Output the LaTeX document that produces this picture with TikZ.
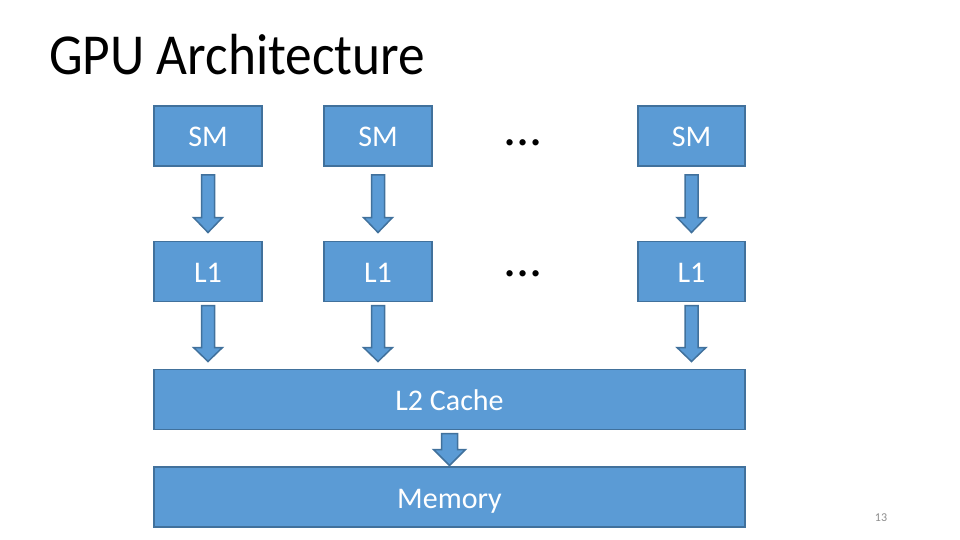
\documentclass[tikz,border=0pt]{standalone}
\usepackage{fontspec}
\setmainfont{Carlito}
\usetikzlibrary{calc}
\definecolor{boxfill}{HTML}{5B9BD5}
\definecolor{boxline}{HTML}{41719C}
\definecolor{pagenum}{HTML}{8C8C8C}
\tikzset{
  unit/.style={draw=boxline, fill=boxfill, line width=1.5pt, outer sep=0pt, inner sep=0pt,
    minimum width=108pt, minimum height=60pt, text=white,
    font=\fontsize{30}{30}\selectfont, text height=22pt, text depth=0pt},
  wide/.style={unit, minimum width=591pt},
  blockarrow/.style={draw=boxline, fill=boxfill, line width=1.5pt, line join=miter},
  dots/.style={font=\fontsize{52}{52}\selectfont, anchor=base, inner sep=0pt}
}
% from, to, gap top, gap bottom, shaft half width, head half width, head length
\newcommand{\barrow}[7]{%
  \draw[blockarrow] let \p1=(#1.south), \p2=(#2.north) in
    (\x1-#5pt,\y1-#3pt) -- (\x1+#5pt,\y1-#3pt) -- (\x1+#5pt,\y2+#4pt+#7pt)
    -- (\x1+#6pt,\y2+#4pt+#7pt) -- (\x1,\y2+#4pt) -- (\x1-#6pt,\y2+#4pt+#7pt)
    -- (\x1-#5pt,\y2+#4pt+#7pt) -- cycle;}
\begin{document}
\begin{tikzpicture}[x=1pt,y=-1pt]
\useasboundingbox (0,0) rectangle (960,540);
\node[anchor=base west, inner sep=0pt, font=\fontsize{58}{58}\selectfont, xscale=0.92] (title) at (49,75) {GPU Architecture};

\node[unit] (sm1) at (208,136) {SM};
\node[unit] (sm2) at (378,136) {SM};
\node[unit, minimum width=107pt] (sm3) at (691.5,136) {SM};
\node[dots] (dots1) at (523,146) {...};

\node[unit] (l1a) at (208,271.5) {L1};
\node[unit] (l1b) at (378,271.5) {L1};
\node[unit, minimum width=107pt] (l1c) at (691.5,271.5) {L1};
\node[dots] (dots2) at (523,276) {...};

\node[wide] (l2) at (449.5,399.5) {L2 Cache};
\node[wide] (mem) at (449.5,497) {Memory};

\node[anchor=base, inner sep=0pt, text=pagenum, font=\fontsize{12}{12}\selectfont] (pg) at (881,521) {13};

\barrow{sm1}{l1a}{9}{9}{6.5}{14.5}{15}
\barrow{sm2}{l1b}{9}{9}{6.5}{14.5}{15}
\barrow{sm3}{l1c}{9}{9}{6.5}{14.5}{15}
\barrow{l1a}{l2}{4}{8}{6.5}{14.5}{14}
\barrow{l1b}{l2}{4}{8}{6.5}{14.5}{14}
\barrow{l1c}{l2}{4}{8}{6.5}{14.5}{14}
\barrow{l2}{mem}{4}{1.5}{8}{16}{16}
\end{tikzpicture}
\end{document}
